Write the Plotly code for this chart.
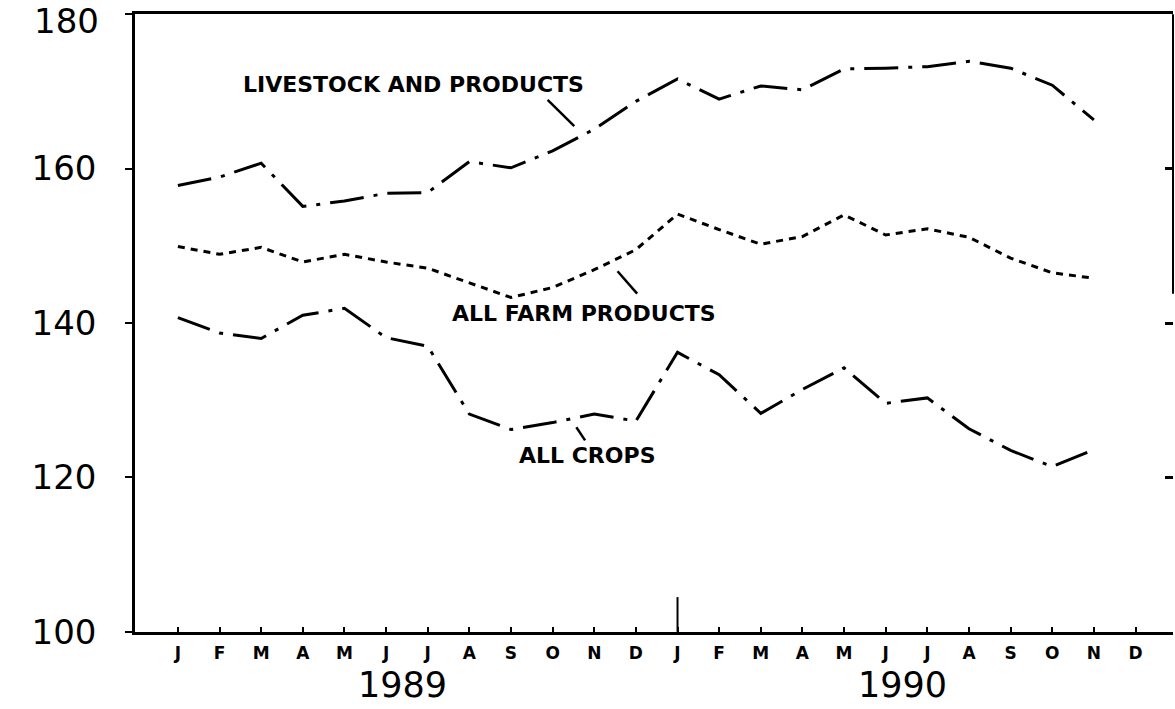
import plotly.graph_objects as go

months = ["J", "F", "M", "A", "M", "J", "J", "A", "S", "O", "N", "D"]
years = ["1989", "1990"]
month_labels = months + months
x_idx = list(range(len(month_labels)))

livestock = [157.8, 158.9, 160.7, 155.1, 155.8, 156.8, 156.9, 160.9, 160.1, 162.3, 165.1, 168.7,
             171.6, 169.0, 170.7, 170.2, 172.9, 173.0, 173.2, 173.9, 173.0, 170.8, 166.3]
farm = [149.9, 148.9, 149.8, 147.9, 148.9, 147.9, 147.1, 145.2, 143.3, 144.6, 146.9, 149.5,
        154.1, 152.1, 150.2, 151.2, 154.0, 151.4, 152.2, 151.1, 148.4, 146.5, 145.8]
crops = [140.7, 138.7, 138.0, 141.0, 141.9, 138.1, 137.0, 128.2, 126.2, 127.1, 128.2, 127.3,
         136.2, 133.3, 128.3, 131.4, 134.2, 129.6, 130.3, 126.3, 123.5, 121.4, 123.6]

series_names = ["LIVESTOCK AND PRODUCTS", "ALL FARM PRODUCTS", "ALL CROPS"]
y_ticks = [100, 120, 140, 160, 180]

FONT = "DejaVu Sans"
fig = go.Figure()

fig.add_trace(go.Scatter(x=x_idx[:len(livestock)], y=livestock, mode="lines", name=series_names[0],
                         line=dict(color="black", width=3, dash="34px,10px,4px,10px")))
fig.add_trace(go.Scatter(x=x_idx[:len(farm)], y=farm, mode="lines", name=series_names[1],
                         line=dict(color="black", width=3, dash="7px,6px")))
fig.add_trace(go.Scatter(x=x_idx[:len(crops)], y=crops, mode="lines", name=series_names[2],
                         line=dict(color="black", width=3, dash="34px,10px,4px,10px")))
# invisible trace to activate right-side axis ticks
fig.add_trace(go.Scatter(x=[0], y=[100], yaxis="y2", mode="markers",
                         marker=dict(opacity=0), showlegend=False, hoverinfo="skip"))

# series labels and leader lines
labels = [
    dict(text=series_names[0], x=5.66, y=170.9, lx=[8.88, 9.52], ly=[168.9, 165.5]),
    dict(text=series_names[1], x=9.76, y=141.2, lx=[10.56, 11.03], ly=[146.7, 143.8]),
    dict(text=series_names[2], x=9.82, y=122.9, lx=[9.57, 9.78], ly=[126.5, 124.8]),
]
for lb in labels:
    fig.add_annotation(x=lb["x"], y=lb["y"], xref="x", yref="y", text="<b>" + lb["text"] + "</b>",
                       showarrow=False, font=dict(family=FONT, size=22, color="black"))
    fig.add_shape(type="line", xref="x", yref="y", x0=lb["lx"][0], x1=lb["lx"][1],
                  y0=lb["ly"][0], y1=lb["ly"][1], line=dict(color="black", width=2.5))

# year labels
for i, yr in enumerate(years):
    fig.add_annotation(x=5.4 + 12 * i, y=-0.121, xref="x", yref="paper", text=yr,
                       showarrow=False, yanchor="bottom",
                       font=dict(family=FONT, size=35, color="black"))

# top tick label drawn as annotation so it sits just below the frame, as in the original
fig.add_annotation(x=0, y=y_ticks[-1], xref="paper", yref="y", text=str(y_ticks[-1]),
                   showarrow=False, xanchor="right", yanchor="middle", xshift=-34, yshift=-7,
                   font=dict(family=FONT, size=34, color="black"))

# year separator tick
fig.add_shape(type="line", xref="x", yref="y", x0=12, x1=12, y0=100, y1=104.5,
              line=dict(color="black", width=2))
# partial right border
fig.add_shape(type="line", xref="paper", yref="y", x0=1, x1=1, y0=180, y1=143.8,
              line=dict(color="black", width=2))

fig.update_layout(
    width=1175, height=709,
    margin=dict(l=135, r=2, t=14, b=77, autoexpand=False),
    paper_bgcolor="white", plot_bgcolor="white",
    showlegend=False,
    xaxis=dict(range=[-1.03, 23.9], tickmode="array", tickvals=x_idx,
               ticktext=["<b>" + m + "</b>" for m in month_labels],
               ticks="inside", ticklen=5, tickwidth=2, tickcolor="black",
               showline=True, linecolor="black", linewidth=2.5, mirror=True,
               showgrid=False, zeroline=False, automargin=False, ticklabelstandoff=4,
               tickfont=dict(family=FONT, size=17, color="black")),
    yaxis=dict(range=[99.98, 180.02], tickmode="array", tickvals=y_ticks,
               ticktext=[str(v) if v != y_ticks[-1] else "" for v in y_ticks],
               ticks="outside", ticklen=7, tickwidth=2, tickcolor="black",
               showline=True, linecolor="black", linewidth=2.5,
               showgrid=False, zeroline=False, ticklabelstandoff=22, automargin=False,
               ticklabeloverflow="allow",
               tickfont=dict(family=FONT, size=34, color="black")),
    yaxis2=dict(range=[99.98, 180.02], overlaying="y", side="right", tickmode="array",
                tickvals=y_ticks[1:-1], ticks="inside", ticklen=8, tickwidth=2.5,
                tickcolor="black", showticklabels=False, showline=False, automargin=False,
                showgrid=False, zeroline=False),
)

fig.write_html("out.html", config={"displayModeBar": False},
               post_script="document.body.style.margin='0px';document.body.style.overflow='hidden';")
